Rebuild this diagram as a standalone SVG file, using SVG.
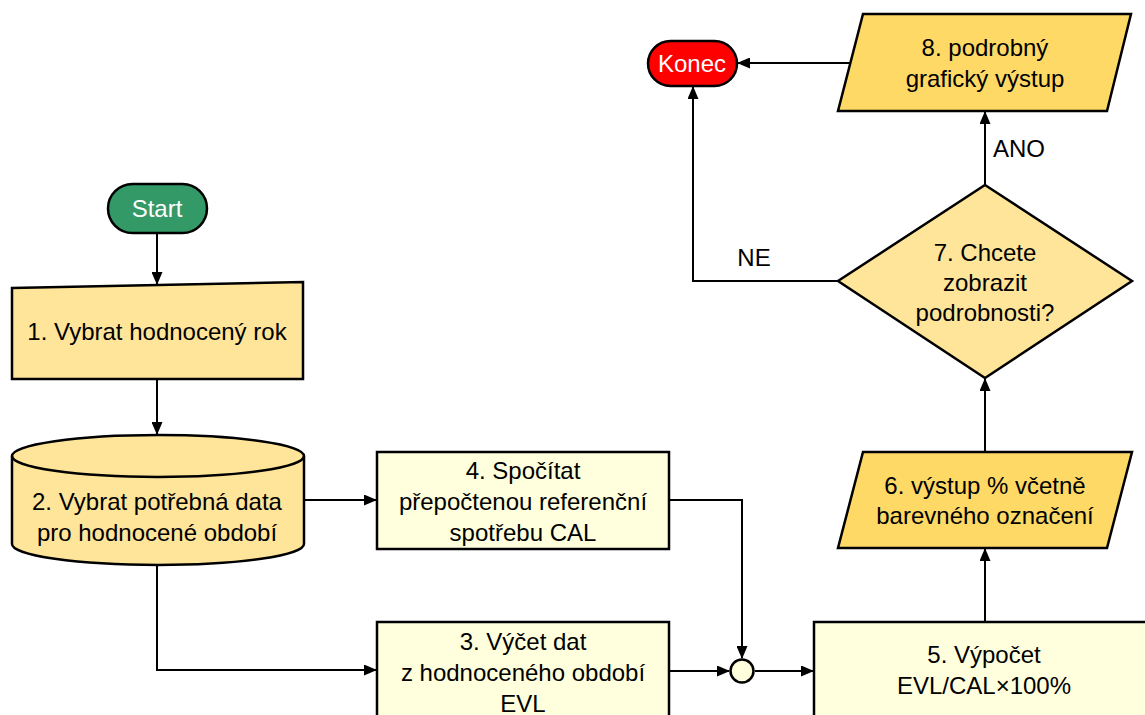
<svg xmlns="http://www.w3.org/2000/svg" width="1145" height="715" viewBox="0 0 1145 715">
  <defs>
    <marker id="arrow" markerUnits="userSpaceOnUse" markerWidth="13" markerHeight="11" refX="12" refY="5.5" orient="auto">
      <path d="M0,0 L13,5.5 L0,11 z" fill="#000"/>
    </marker>
    <style>
      .shape { stroke: #000; stroke-width: 2.5; stroke-linejoin: miter; }
      .gold { fill: #ffe599; }
      .dgold { fill: #ffd966; }
      .cream { fill: #ffffdd; }
      .edge { fill: none; stroke: #000; stroke-width: 2; marker-end: url(#arrow); }
      .line { fill: none; stroke: #000; stroke-width: 2; }
      text { font-family: "Liberation Sans", Arial, sans-serif; font-size: 24px; fill: #000; text-anchor: middle; }
      .white { fill: #fff; }
      .lbl { text-anchor: start; }
    </style>
  </defs>
  <rect width="1145" height="715" fill="#fff"/>

  <!-- connectors -->
  <g id="connectors">
    <path class="edge" d="M157,233 V284"/>
    <path class="edge" d="M157,379 V434"/>
    <path class="edge" d="M304,500 H376"/>
    <path class="edge" d="M157,565 V670 H376"/>
    <path class="edge" d="M669,500 H742 V658"/>
    <path class="edge" d="M669,671 H729"/>
    <path class="edge" d="M755,671 H813"/>
    <path class="edge" d="M985,621 V549"/>
    <path class="edge" d="M985,452 V379"/>
    <path class="edge" d="M985,185 V112"/>
    <path class="edge" d="M838,281 H693 V87"/>
    <path class="edge" d="M850,63 H738"/>
    <text class="lbl" x="993" y="157">ANO</text>
    <text x="754" y="266">NE</text>
  </g>

  <g id="start">
    <rect class="shape" x="108" y="184" width="99" height="49" rx="24.5" fill="#339966"/>
    <text class="white" x="157" y="217">Start</text>
  </g>

  <g id="n1">
    <path class="shape gold" d="M12,288 L303,282 L303,379 L12,379 Z"/>
    <text x="157" y="340">1. Vybrat hodnocený rok</text>
  </g>

  <g id="n2">
    <path class="shape gold" d="M12,456 A146,21 0 0 1 304,456 V544 A146,21 0 0 1 12,544 Z"/>
    <path class="shape" fill="none" d="M12,456 A146,21 0 0 0 304,456"/>
    <text x="157" y="510">2. Vybrat potřebná data</text>
    <text x="157" y="541">pro hodnocené období</text>
  </g>

  <g id="n4">
    <rect class="shape cream" x="377" y="452" width="292" height="97"/>
    <text x="523" y="479">4. Spočítat</text>
    <text x="523" y="510">přepočtenou referenční</text>
    <text x="523" y="541">spotřebu CAL</text>
  </g>

  <g id="n3">
    <rect class="shape cream" x="377" y="622" width="292" height="110"/>
    <text x="523" y="650">3. Výčet dat</text>
    <text x="523" y="681">z hodnoceného období</text>
    <text x="523" y="712">EVL</text>
  </g>

  <g id="join">
    <circle class="shape cream" cx="742" cy="671" r="11.5"/>
  </g>

  <g id="n5">
    <rect class="shape cream" x="814" y="622" width="345" height="110"/>
    <text x="984" y="663">5. Výpočet</text>
    <text x="984" y="694">EVL/CAL×100%</text>
  </g>

  <g id="n6">
    <path class="shape dgold" d="M863,452 L1132,452 L1107,548 L838,548 Z"/>
    <text x="985" y="494">6. výstup % včetně</text>
    <text x="985" y="524">barevného označení</text>
  </g>

  <g id="n7">
    <path class="shape gold" d="M985,185 L1132,281 L985,378 L838,281 Z"/>
    <text x="985" y="261">7. Chcete</text>
    <text x="985" y="291">zobrazit</text>
    <text x="985" y="321">podrobnosti?</text>
  </g>

  <g id="n8">
    <path class="shape dgold" d="M863,14 L1131,14 L1107,111 L838,111 Z"/>
    <text x="985" y="56">8. podrobný</text>
    <text x="985" y="87">grafický výstup</text>
  </g>

  <g id="end">
    <rect class="shape" x="648" y="41" width="89" height="45" rx="22.5" fill="#ff0000"/>
    <text class="white" x="692" y="72">Konec</text>
  </g>
</svg>
